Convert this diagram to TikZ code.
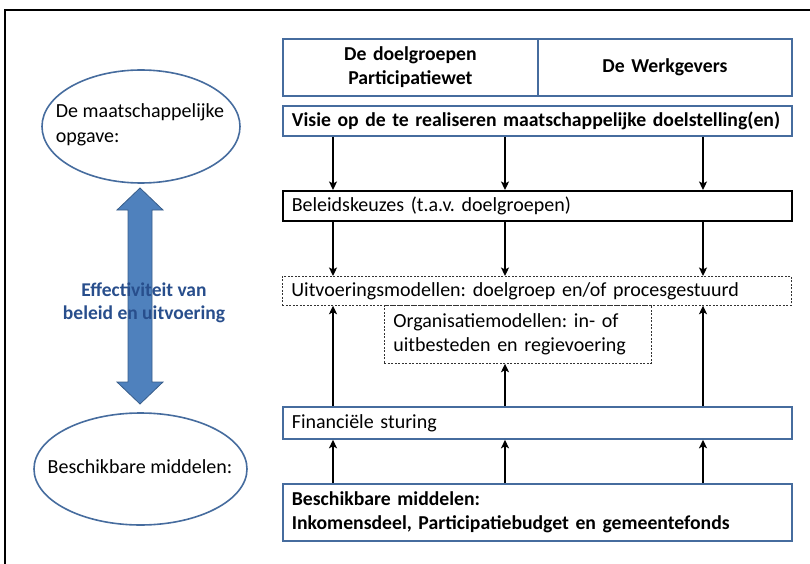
\documentclass[tikz,border=0pt]{standalone}
\usepackage{fontspec}
\setmainfont{Carlito}
\usetikzlibrary{shapes.geometric,arrows.meta}
\definecolor{boxblue}{RGB}{70,108,158}
\definecolor{arrfill}{RGB}{79,129,189}
\definecolor{arrline}{RGB}{56,93,138}
\definecolor{efftext}{RGB}{40,78,140}
\frenchspacing
\begin{document}
\begin{tikzpicture}[x=1pt,y=-1pt,
  boxfont/.style={font=\fontsize{20}{24}\selectfont},
  boldfont/.style={font=\fontsize{19.7}{24}\selectfont\bfseries},
  bluebox/.style={draw=boxblue,line width=1.8pt,anchor=north west,inner xsep=9pt,inner ysep=0pt,boxfont,align=left,text width=491pt},
  blackbox/.style={bluebox,draw=black,line width=1.5pt},
  dashbox/.style={bluebox,draw=black!80,line width=0.7pt,dash pattern=on 2pt off 1.5pt},
  headbox/.style={draw=boxblue,line width=1.8pt,anchor=north west,inner xsep=9pt,inner ysep=0pt,align=center,text width=237pt,minimum height=57pt,boldfont},
  ell/.style={draw=boxblue,line width=1.6pt,ellipse,inner sep=0pt},
  elltext/.style={align=left,inner sep=0pt,font=\fontsize{20}{25}\selectfont},
  arr/.style={-{Stealth[length=8.5pt,width=8pt,inset=2pt]},line width=1.5pt}
]
\useasboundingbox (0,0) rectangle (810,564);
% frame
\draw[line width=2.2pt] (5,564) -- (5,10) -- (810,10);
% header
\node[headbox] (hl) at (282,38) {De doelgroepen\\Participatiewet};
\node[headbox,text width=236pt] (hr) at (537,38) {De Werkgevers};
% boxes
\node[bluebox,minimum height=30pt,boldfont] (visie) at (282,105) {Visie op de te realiseren maatschappelijke doelstelling(en)};
\node[blackbox,minimum height=30pt] (beleid) at (282,190) {Beleidskeuzes (t.a.v. doelgroepen)};
\node[dashbox,minimum height=29pt] (uitv) at (282,276) {Uitvoeringsmodellen: doelgroep en/of procesgestuurd};
\node[dashbox,minimum height=58pt,text width=249pt,inner xsep=9pt] (org) at (384,305) {Organisatiemodellen: in- of\\uitbesteden en regievoering};
\node[bluebox,minimum height=32pt] (fin) at (282,406) {Financiële sturing};
\node[bluebox,minimum height=57pt,boldfont] (besch) at (282,483) {Beschikbare middelen:\\Inkomensdeel, Participatiebudget en gemeentefonds};
% column coordinates
\coordinate (c1) at (333,0);
\coordinate (c2) at (505,0);
\coordinate (c3) at (703,0);
% arrows
\foreach \c in {c1,c2,c3}{
  \draw[arr] (visie.south -| \c) -- (beleid.north -| \c);
  \draw[arr] (beleid.south -| \c) -- (uitv.north -| \c);
  \draw[arr] (besch.north -| \c) -- (fin.south -| \c);
}
\draw[arr] (fin.north -| c1) -- (uitv.south -| c1);
\draw[arr] (fin.north -| c3) -- (uitv.south -| c3);
\draw[arr] (fin.north -| c2) -- (org.south -| c2);
% ellipses
\node[ell,minimum width=198pt,minimum height=113pt] (opg) at (141,126.5) {};
\node[elltext] (opgt) at (140,125) {De maatschappelijke\\opgave:};
\node[ell,minimum width=213pt,minimum height=112pt] (mid) at (140.5,469) {};
\node[elltext] (midt) at (140,467) {Beschikbare middelen:};
% double arrow
\filldraw[fill=arrfill,draw=arrline,line width=0.8pt]
  (140,188) -- (163,210) -- (152,210) -- (152,382) -- (163,382) -- (140,404)
  -- (117,382) -- (128,382) -- (128,210) -- (117,210) -- cycle;
\node[font=\fontsize{19.5}{23}\selectfont\bfseries,text=efftext,align=center] (eff) at (144,303) {Effectiviteit van\\beleid en uitvoering};
\end{tikzpicture}
\end{document}
